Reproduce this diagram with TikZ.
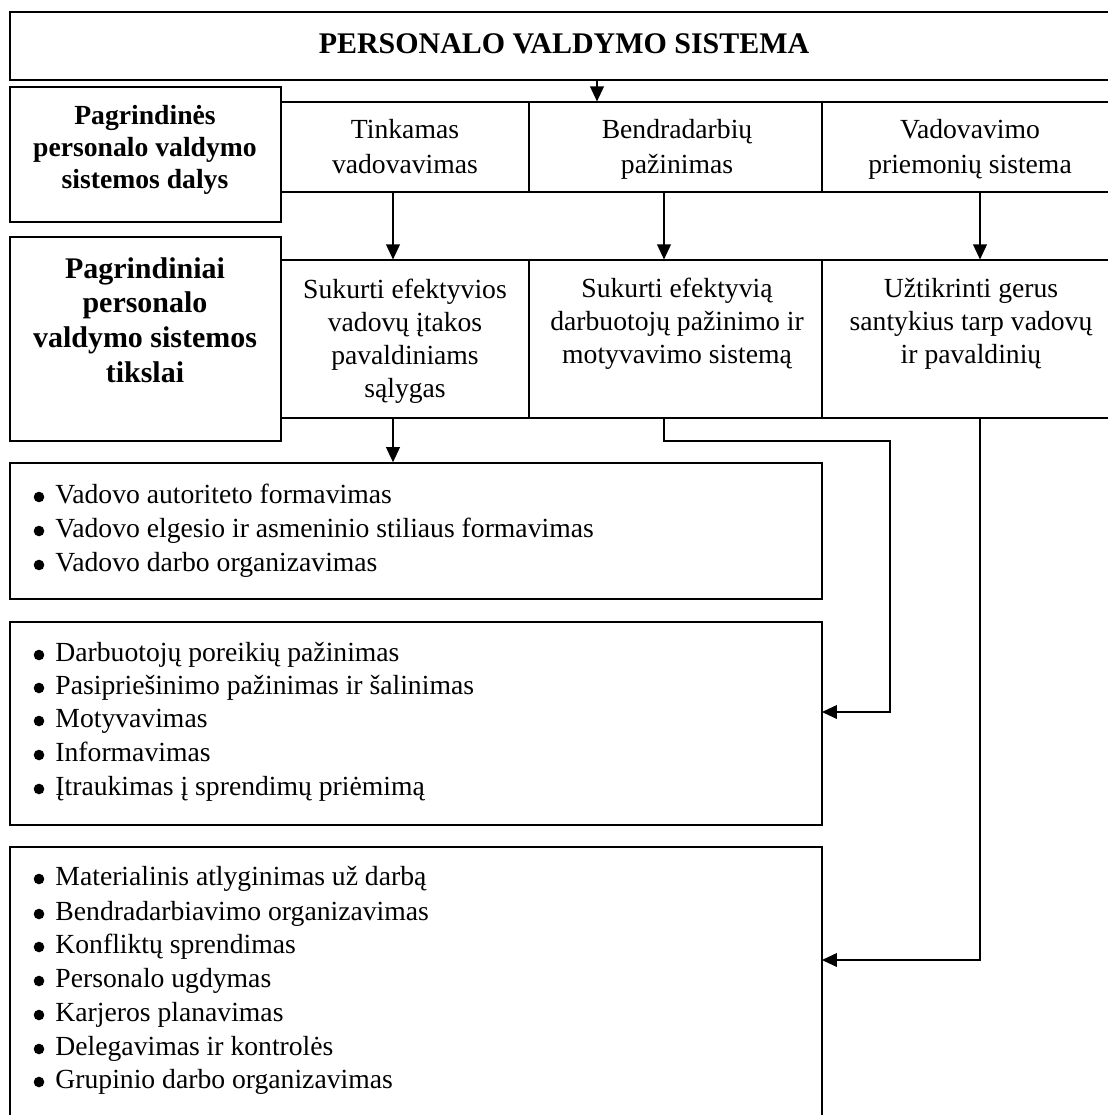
\documentclass[tikz,border=0pt]{standalone}
\usepackage{fontspec}
\setmainfont{Liberation Serif}
\usetikzlibrary{arrows.meta,fit}
\begin{document}
\begin{tikzpicture}[x=0.434pt,y=-0.434pt,
  frame/.style={draw, line width=0.9pt, inner sep=0pt},
  cell/.style={draw, line width=0.5pt, inner sep=0pt},
  listbox/.style={draw, line width=0.7pt, inner sep=0pt},
  celltext/.style={anchor=base, inner sep=0pt, align=center, font=\fontsize{12}{#1}\selectfont},
  headtext/.style={anchor=base, inner sep=0pt, align=center},
  item/.style={anchor=base west, inner sep=0pt, font=\fontsize{12}{14}\selectfont},
  link/.style={line width=0.5pt, -{Triangle[length=6.5pt,width=6pt]}},
]
\clip (0,0) rectangle (1108,1115);

% title bar
\node[frame, fit={(10,12) (1118,80)}] (title) {};
\node[headtext, font=\fontsize{13}{15}\bfseries] (titletext) at (564,53) {PERSONALO VALDYMO SISTEMA};

% first row: parts of the system (text anchored at the last baseline)
\node[cell, fit={(281,102) (529,192)}] (c11) {};
\node[cell, fit={(529,102) (822,192)}] (c12) {};
\node[cell, fit={(822,102) (1118,192)}] (c13) {};
\node[celltext=15pt] (t11) at (405,173) {Tinkamas\\vadovavimas};
\node[celltext=15pt] (t12) at (677,173) {Bendradarbių\\pažinimas};
\node[celltext=15pt] (t13) at (970,173) {Vadovavimo\\priemonių sistema};

% second row: goals
\node[cell, fit={(281,260) (529,418)}] (c21) {};
\node[cell, fit={(529,260) (822,418)}] (c22) {};
\node[cell, fit={(822,260) (1118,418)}] (c23) {};
\node[celltext=14.3pt] (t21) at (405,397) {Sukurti efektyvios\\vadovų įtakos\\pavaldiniams\\sąlygas};
\node[celltext=14.3pt] (t22) at (677,363) {Sukurti efektyvią\\darbuotojų pažinimo ir\\motyvavimo sistemą};
\node[celltext=14.3pt] (t23) at (971,363) {Užtikrinti gerus\\santykius tarp vadovų\\ir pavaldinių};

% row headings
\node[frame, fill=white, fit={(10,87) (281,222)}] (h1) {};
\node[headtext, font=\fontsize{12}{13.7}\bfseries] (h1text) at (145,188) {Pagrindinės\\personalo valdymo\\sistemos dalys};
\node[frame, fill=white, fit={(10,237) (281,441)}] (h2) {};
\node[headtext, font=\fontsize{13}{15}\bfseries] (h2text) at (145,382) {Pagrindiniai\\personalo\\valdymo sistemos\\tikslai};

% lists of measures
\node[listbox, fit={(10,463) (822,599)}] (L1) {};
\node[listbox, fit={(10,622) (822,825)}] (L2) {};
\node[listbox, fit={(10,847) (822,1130)}] (L3) {};

\foreach \t/\y [count=\i] in {Vadovo autoriteto formavimas/503,
    Vadovo elgesio ir asmeninio stiliaus formavimas/537,
    Vadovo darbo organizavimas/571}
  {\node[item] (a-\i) at (55,\y) {\t};
   \fill (39,{\y-6}) circle (2.3pt);}
\foreach \t/\y [count=\i] in {Darbuotojų poreikių pažinimas/661,
    Pasipriešinimo pažinimas ir šalinimas/694,
    Motyvavimas/727,
    Informavimas/761,
    Įtraukimas į sprendimų priėmimą/795}
  {\node[item] (b-\i) at (55,\y) {\t};
   \fill (39,{\y-6}) circle (2.3pt);}
\foreach \t/\y [count=\i] in {Materialinis atlyginimas už darbą/885,
    Bendradarbiavimo organizavimas/920,
    Konfliktų sprendimas/953,
    Personalo ugdymas/987,
    Karjeros planavimas/1021,
    Delegavimas ir kontrolės/1055,
    Grupinio darbo organizavimas/1088}
  {\node[item] (c-\i) at (55,\y) {\t};
   \fill (39,{\y-6}) circle (2.3pt);}

% connector anchors
\coordinate (tap) at (597,80);
\coordinate (x1) at (393,0);
\coordinate (x2) at (664,0);
\coordinate (x3) at (980,0);
\coordinate (bend) at (890,441);
\coordinate (in2) at (822,712);
\coordinate (in3) at (822,960);

% connectors
\draw[link] (tap) -- (tap |- c12.north);
\draw[link] (c11.south -| x1) -- (c21.north -| x1);
\draw[link] (c12.south -| x2) -- (c22.north -| x2);
\draw[link] (c13.south -| x3) -- (c23.north -| x3);
\draw[link] (c21.south -| x1) -- (L1.north -| x1);
\draw[link] (c22.south -| x2) |- (bend) |- (in2);
\draw[link] (c23.south -| x3) |- (in3);
\end{tikzpicture}
\end{document}
